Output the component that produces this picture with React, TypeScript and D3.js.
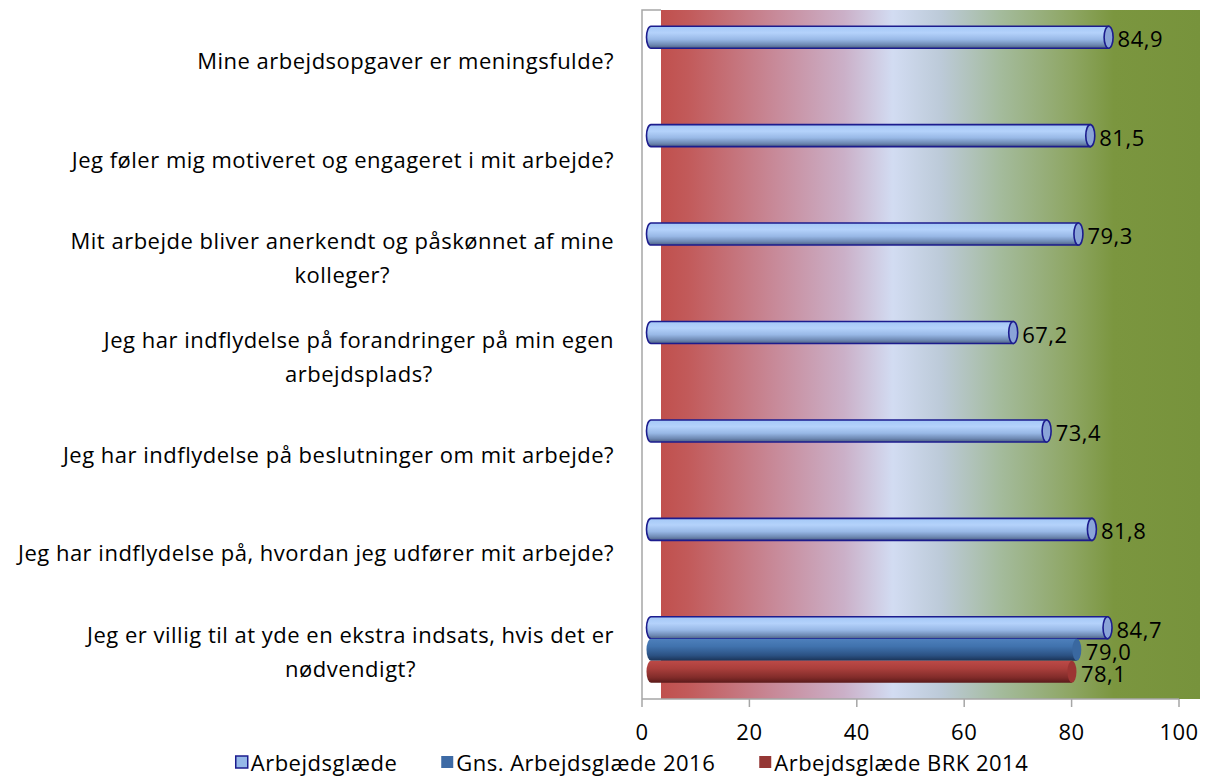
import React, { useEffect, useRef } from 'react'
import * as d3 from 'd3'

const categories: string[][] = [
  ['Mine arbejdsopgaver er meningsfulde?'],
  ['Jeg føler mig motiveret og engageret i mit arbejde?'],
  ['Mit arbejde bliver anerkendt og påskønnet af mine', 'kolleger?'],
  ['Jeg har indflydelse på forandringer på min egen', 'arbejdsplads?'],
  ['Jeg har indflydelse på beslutninger om mit arbejde?'],
  ['Jeg har indflydelse på, hvordan jeg udfører mit arbejde?'],
  ['Jeg er villig til at yde en ekstra indsats, hvis det er', 'nødvendigt?'],
]

const arbejdsglaede: (number | null)[] = [84.9, 81.5, 79.3, 67.2, 73.4, 81.8, 84.7]
const gns2016: (number | null)[] = [null, null, null, null, null, null, 79.0]
const brk2014: (number | null)[] = [null, null, null, null, null, null, 78.1]

const seriesNames = ['Arbejdsglæde', 'Gns. Arbejdsglæde 2016', 'Arbejdsglæde BRK 2014']
const xTicks = [0, 20, 40, 60, 80, 100]

const W = 1209
const H = 776
const FONT = '"Open Sans", "Noto Sans", sans-serif'
const FS = 22
const LS = 0.5

const fmt = (v: number) => d3.format('.1f')(v).replace('.', ',')

const App: React.FC = () => {
  const ref = useRef<SVGSVGElement>(null)

  useEffect(() => {
    if (!ref.current) return
    const svg = d3.select(ref.current)
    svg.selectAll('*').remove()

    const plotTop = 10
    const plotBottom = 699
    const wallLeft = 642
    const bgLeft = 661
    const bgRight = 1200

    // axis scale (front edge) and bar scale (3d depth offset)
    const x = d3.scaleLinear().domain([0, 100]).range([642, 1179])
    const xBar = d3.scaleLinear().domain([0, 100]).range([651, 1190])

    const y = d3
      .scaleBand<number>()
      .domain(d3.range(categories.length))
      .range([plotTop, plotBottom])
    const barH = 22
    const ySeries = d3.scaleBand<number>().domain([0, 1, 2]).range([0, barH * 3])
    const groupOffset = (y.bandwidth() - barH * 3) / 2

    const defs = svg.append('defs')

    const bg = defs
      .append('linearGradient')
      .attr('id', 'bgGrad')
      .attr('x1', 0)
      .attr('x2', 1)
      .attr('y1', 0)
      .attr('y2', 0)
    const bgStops: [number, string][] = [
      [0, '#c0504d'],
      [0.05, '#c25a5a'],
      [0.22, '#c88c9c'],
      [0.34, '#cbb0c8'],
      [0.43, '#d2dcf2'],
      [0.52, '#bccad8'],
      [0.63, '#a4bb9c'],
      [0.76, '#8ea664'],
      [0.84, '#7b963f'],
      [1, '#77933c'],
    ]
    bgStops.forEach(([o, c]) => bg.append('stop').attr('offset', o).attr('stop-color', c))

    const cyl = [
      {
        id: 'cyl0',
        stops: [
          [0, '#a4c8f6'],
          [0.3, '#b4d2fb'],
          [0.6, '#98b8e6'],
          [0.85, '#6d88b2'],
          [1, '#4c5f82'],
        ],
        stroke: '#1c1c8e',
        cap: '#8aa4d8',
        legend: '#95b8e8',
      },
      {
        id: 'cyl1',
        stops: [
          [0, '#4e80bc'],
          [0.35, '#4072ad'],
          [0.75, '#2c5284'],
          [1, '#1a3356'],
        ],
        stroke: 'none',
        cap: '#3a68a0',
        legend: '#3d6aa5',
      },
      {
        id: 'cyl2',
        stops: [
          [0, '#bd4a47'],
          [0.35, '#aa3f3c'],
          [0.75, '#822c2a'],
          [1, '#5a1a1a'],
        ],
        stroke: 'none',
        cap: '#9c3533',
        legend: '#953735',
      },
    ]
    cyl.forEach(c => {
      const g = defs
        .append('linearGradient')
        .attr('id', c.id)
        .attr('x1', 0)
        .attr('x2', 0)
        .attr('y1', 0)
        .attr('y2', 1)
      c.stops.forEach(([o, col]) => g.append('stop').attr('offset', o as number).attr('stop-color', col as string))
    })

    // back wall + side wall
    svg
      .append('rect')
      .attr('x', bgLeft)
      .attr('y', plotTop)
      .attr('width', bgRight - bgLeft)
      .attr('height', plotBottom - plotTop)
      .attr('fill', 'url(#bgGrad)')
    svg
      .append('path')
      .attr('d', `M${bgLeft},${plotTop}H${wallLeft}V${plotBottom}`)
      .attr('fill', 'none')
      .attr('stroke', '#a6a6a6')
      .attr('stroke-width', 1.5)

    // x axis
    svg
      .append('line')
      .attr('x1', wallLeft)
      .attr('x2', x(100))
      .attr('y1', plotBottom)
      .attr('y2', plotBottom)
      .attr('stroke', '#a6a6a6')
      .attr('stroke-width', 1.5)
    const ticks = svg.append('g')
    xTicks.forEach(t => {
      ticks
        .append('line')
        .attr('x1', x(t))
        .attr('x2', x(t))
        .attr('y1', plotBottom)
        .attr('y2', plotBottom + 8)
        .attr('stroke', '#a6a6a6')
        .attr('stroke-width', 1.5)
      ticks
        .append('text')
        .attr('x', x(t))
        .attr('y', 731)
        .attr('text-anchor', 'middle')
        .attr('dominant-baseline', 'central')
        .attr('font-family', FONT)
        .attr('font-size', FS)
        .attr('letter-spacing', LS)
        .text(String(t))
    })

    // bars
    const series = [arbejdsglaede, gns2016, brk2014]
    const rx = 4.5
    series.forEach((vals, si) => {
      const c = cyl[si]
      vals.forEach((v, ci) => {
        if (v == null) return
        const top = (y(ci) as number) + groupOffset + (ySeries(si) as number)
        const ry = barH / 2
        const cy = top + ry
        const x0 = xBar(0)
        const x1 = xBar(v)
        const body = `M${x1},${top}H${x0}A${rx},${ry} 0 0 0 ${x0},${top + barH}H${x1}Z`
        svg
          .append('path')
          .attr('d', body)
          .attr('fill', `url(#${c.id})`)
          .attr('stroke', c.stroke)
          .attr('stroke-width', 1.6)
        svg
          .append('ellipse')
          .attr('cx', x1)
          .attr('cy', cy)
          .attr('rx', rx)
          .attr('ry', ry)
          .attr('fill', c.cap)
          .attr('stroke', c.stroke)
          .attr('stroke-width', 1.6)
        svg
          .append('text')
          .attr('x', x1 + 9)
          .attr('y', cy + 1)
          .attr('dominant-baseline', 'central')
          .attr('font-family', FONT)
          .attr('font-size', FS)
          .attr('letter-spacing', LS)
          .text(fmt(v))
      })
    })

    // category labels: right aligned block, lines centred on each other
    const labelRight = 614
    const lineH = 34
    categories.forEach((lines, ci) => {
      const cy = (y(ci) as number) + y.bandwidth() / 2 + 1
      const g = svg.append('g')
      const texts = lines.map(l =>
        g
          .append('text')
          .attr('font-family', FONT)
          .attr('font-size', FS)
          .attr('letter-spacing', LS)
          .attr('text-anchor', 'middle')
          .attr('dominant-baseline', 'central')
          .text(l)
      )
      const maxW = d3.max(texts, t => (t.node() as SVGTextElement).getComputedTextLength()) || 0
      const cx = labelRight - maxW / 2
      texts.forEach((t, i) => {
        t.attr('x', cx).attr('y', cy + (i - (lines.length - 1) / 2) * lineH)
      })
    })

    // legend
    const legend = svg.append('g')
    const sq = 12
    const gapAfterSq = 3
    const itemGap = 44
    const items = seriesNames.map((name, i) => {
      const g = legend.append('g')
      g.append('rect')
        .attr('width', sq)
        .attr('height', sq)
        .attr('y', -sq / 2)
        .attr('fill', cyl[i].legend)
        .attr('stroke', i === 0 ? cyl[0].stroke : 'none')
        .attr('stroke-width', 1.5)
      const t = g
        .append('text')
        .attr('x', sq + gapAfterSq)
        .attr('dominant-baseline', 'central')
        .attr('font-family', FONT)
        .attr('font-size', FS)
        .attr('letter-spacing', LS)
        .text(name)
      return { g, w: sq + gapAfterSq + (t.node() as SVGTextElement).getComputedTextLength() }
    })
    const total = d3.sum(items, d => d.w) + itemGap * (items.length - 1)
    let lx = 632 - total / 2
    items.forEach(it => {
      it.g.attr('transform', `translate(${lx},762)`)
      lx += it.w + itemGap
    })
  }, [])

  return (
    <svg
      ref={ref}
      width={W}
      height={H}
      style={{ position: 'absolute', left: 0, top: 0, background: '#fff' }}
    />
  )
}

export default App
